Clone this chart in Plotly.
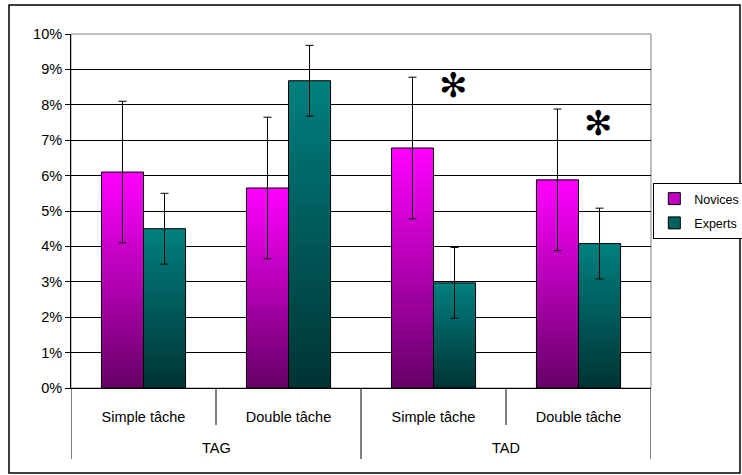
import plotly.graph_objects as go

# ---- data ----
groups = ["TAG", "TAG", "TAD", "TAD"]
tasks = ["Simple tâche", "Double tâche", "Simple tâche", "Double tâche"]
series_names = ["Novices", "Experts"]
novices = [6.1, 5.65, 6.78, 5.88]
novices_err = [2.0, 2.0, 2.0, 2.0]
experts = [4.5, 8.68, 2.97, 4.08]
experts_err = [1.0, 1.0, 1.0, 1.0]
y_tick_vals = [0, 1, 2, 3, 4, 5, 6, 7, 8, 9, 10]
y_tick_labels = [f"{v}%" for v in y_tick_vals]
sig_labels = ["✻", "✻"]

# ---- style ----
FONT = "Arial, Liberation Sans, sans-serif"
FS = 14.5
colors_top = {"Novices": (255, 0, 255), "Experts": (0, 128, 128)}
colors_bot = {"Novices": (102, 0, 102), "Experts": (0, 51, 51)}
N_SLICES = 30
PLOT_H = 354  # px height of plot area

xpos = list(range(len(tasks)))
fig = go.Figure()


def mix(c1, c2, t):
    return "rgb(%d,%d,%d)" % tuple(round(a + (b - a) * t) for a, b in zip(c1, c2))


for name, vals, errs in [("Novices", novices, novices_err), ("Experts", experts, experts_err)]:
    # gradient body built from overlapping slices of each bar
    for k in range(N_SLICES):
        t = (k + 0.5) / N_SLICES
        base = [v * k / N_SLICES for v in vals]
        h = [v / N_SLICES * (1.0 if k == N_SLICES - 1 else 1.8) for v in vals]
        fig.add_trace(go.Bar(
            x=xpos, y=h, base=base, offsetgroup=name, showlegend=False, hoverinfo="skip",
            marker=dict(color=mix(colors_bot[name], colors_top[name], t), line=dict(width=0)),
        ))
    # outline + error bars
    fig.add_trace(go.Bar(
        x=xpos, y=vals, offsetgroup=name, showlegend=False, name=name,
        marker=dict(color="rgba(0,0,0,0)", line=dict(color="black", width=1)),
        error_y=dict(type="data", array=errs, color="black", thickness=1, width=4),
    ))
    # legend entry
    fig.add_trace(go.Bar(
        x=xpos, y=[None] * len(xpos), offsetgroup=name, name=name, showlegend=True,
        legendgroup=name,
        marker=dict(color=mix(colors_bot[name], colors_top[name], 0.6), line=dict(color="black", width=1)),
    ))

fig.update_layout(
    width=742, height=475,
    margin=dict(l=71, r=91, t=34, b=87, autoexpand=False),
    paper_bgcolor="white", plot_bgcolor="white",
    font=dict(family=FONT, size=FS, color="black"),
    barmode="group", bargap=0.42, bargroupgap=0,
    legend=dict(x=1.004, y=(388 - 183) / PLOT_H, xanchor="left", yanchor="top",
                bordercolor="black", borderwidth=1, bgcolor="white",
                font=dict(size=12.5, family=FONT), traceorder="grouped",
                itemwidth=30, tracegroupgap=5),
    xaxis=dict(range=[-0.5, len(tasks) - 0.5], tickvals=xpos, ticktext=tasks,
               showline=True, linecolor="black", linewidth=1, ticks="",
               ticklabelstandoff=16, tickfont=dict(size=FS, family=FONT),
               showgrid=False, zeroline=False),
    yaxis=dict(range=[0, 10], tickvals=y_tick_vals, ticktext=y_tick_labels,
               showgrid=True, gridcolor="black", gridwidth=1,
               showline=True, linecolor="black", linewidth=1,
               ticks="outside", ticklen=5, tickcolor="black",
               zeroline=False, tickfont=dict(size=FS, family=FONT)),
)

# plot area border (gray)
fig.add_shape(type="rect", xref="paper", yref="paper", x0=0, x1=1, y0=0, y1=1,
              line=dict(color="#808080", width=1), layer="below")

# category boundary lines below the axis
for i in range(len(tasks) + 1):
    xb = i - 0.5
    left = groups[i - 1] if i > 0 else None
    right = groups[i] if i < len(groups) else None
    outer = left != right
    fig.add_shape(type="line", xref="x", yref="paper", x0=xb, x1=xb, y0=0,
                  y1=-(71 if outer else 37) / PLOT_H, line=dict(color="black", width=1))

# outer group labels
for g in dict.fromkeys(groups):
    idx = [i for i, gg in enumerate(groups) if gg == g]
    fig.add_annotation(x=sum(idx) / len(idx), xref="x", y=-60 / PLOT_H, yref="paper",
                       text=g, showarrow=False, yanchor="middle",
                       font=dict(size=FS, family=FONT, color="black"))

# outer chart frame
fig.add_shape(type="rect", xref="paper", yref="paper",
              x0=(9 - 71) / 580, x1=(740 - 71) / 580,
              y0=(388 - 473) / PLOT_H, y1=(388 - 5) / PLOT_H,
              line=dict(color="black", width=1.5))

# significance asterisks above expert bars (TAD)
for lab, xi, yv in zip(sig_labels, [2, 3], [8.55, 7.5]):
    fig.add_annotation(x=xi + 0.14, xref="x", y=yv, yref="y", text=lab, showarrow=False,
                       font=dict(size=34, family="DejaVu Sans", color="black"))

fig.write_html("out.html", config={"displayModeBar": False},
               post_script="document.body.style.margin='0';document.body.style.overflow='hidden';")
